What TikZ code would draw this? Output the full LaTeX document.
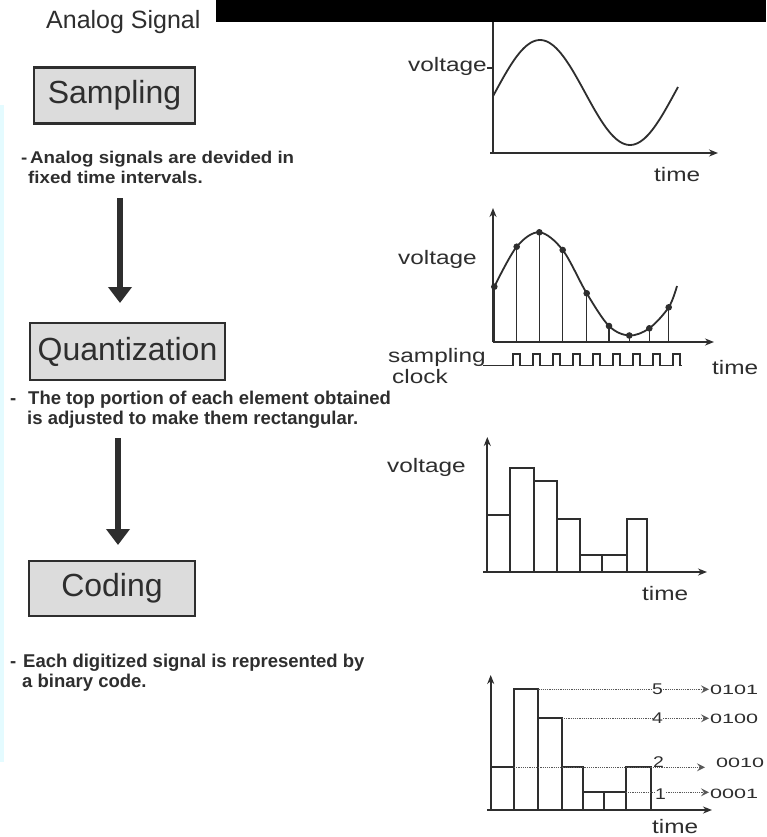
\documentclass[tikz,border=0pt]{standalone}
\usepackage{fontspec}
\setmainfont{Liberation Sans}
\newfontfamily\widefont[FakeStretch=1.25]{Liberation Sans}
\newfontfamily\descwide[FakeStretch=1.1]{Liberation Sans}
\newfontfamily\digfont[FakeStretch=1.6]{Liberation Sans}
\usetikzlibrary{arrows.meta}
\definecolor{ink}{HTML}{2E2E2E}
\definecolor{boxfill}{HTML}{DCDCDC}
\definecolor{strip}{HTML}{E4FBFF}
\begin{document}
\begin{tikzpicture}[x=1pt,y=-1pt,
  stepbox/.style={draw=ink, line width=2.5pt, fill=boxfill, inner sep=0pt, font=\fontsize{32}{36}\selectfont, text=ink},
  desc/.style={anchor=base west, font=\bfseries\fontsize{18.5}{20}\selectfont, text=ink, inner sep=0pt},
  descw/.style={anchor=base west, font=\descwide\bfseries\fontsize{17}{18}\selectfont, text=ink, inner sep=0pt},
  lab/.style={anchor=base west, font=\widefont\fontsize{19.5}{20}\selectfont, text=ink, inner sep=0pt},
  axis/.style={draw=ink, line width=1.8pt, -{Stealth[length=9pt,width=7pt]}},
  sig/.style={draw=ink, line width=1.8pt},
  thinsig/.style={draw=ink, line width=1.3pt},
  bigarrow/.style={draw=ink, line width=6pt, -{Triangle[length=16pt,width=23pt]}},
  code/.style={anchor=base west, font=\digfont\fontsize{13.5}{14}\selectfont, text=ink, inner sep=0pt},
  lvl/.style={anchor=base west, font=\widefont\fontsize{15.5}{15}\selectfont, text=ink, inner sep=0pt},
  dots/.style={draw=ink!80, line width=1.2pt, densely dotted},
  dotarrow/.style={dots, -{Stealth[length=8pt,width=8pt,inset=3pt]}},
]
\useasboundingbox (0,0) rectangle (766,837);
\fill[white] (0,0) rectangle (766,837);
\fill[strip] (0,105) rectangle (4,762);

% ---------- left column ----------
\node[anchor=base west, font=\fontsize{25}{25}\selectfont, text=ink, inner sep=0pt] (title) at (46,29) {Analog Signal};

\node[stepbox, minimum width=161pt, minimum height=56pt] (samp) at (114.5,95.5) {Sampling};
\node[descw] (d1dash) at (21,164) {-};
\node[descw] (d1a) at (30,164) {Analog signals are devided in};
\node[descw] (d1b) at (28,183) {fixed time intervals.};

\coordinate (a1s) at (120,198);
\coordinate (a1e) at (120,303);
\draw[bigarrow] (a1s) -- (a1e);

\node[stepbox, minimum width=195pt, minimum height=57pt] (quant) at (127.5,351.5) {Quantization};
\node[desc] (d2dash) at (10,404) {-};
\node[desc] (d2a) at (28,404) {The top portion of each element obtained};
\node[desc] (d2b) at (27,424) {is adjusted to make them rectangular.};

\coordinate (a2s) at (118,438);
\coordinate (a2e) at (118,545);
\draw[bigarrow] (a2s) -- (a2e);

\node[stepbox, minimum width=166pt, minimum height=55pt] (cod) at (112,588.5) {Coding};
\node[desc] (d3dash) at (10,667) {-};
\node[desc] (d3a) at (23,667) {Each digitized signal is represented by};
\node[desc] (d3b) at (22,687) {a binary code.};

% ---------- graph 1: analog ----------
\coordinate (o1) at (493,153);
\coordinate (y1) at (493,20);
\coordinate (x1) at (718,153);
\draw[sig] (o1) -- (y1);
\draw[axis] (490,153) -- (x1);
\draw[sig] plot[domain=493:678, samples=80, smooth] (\x, {92.5-52.5*cos(2*(\x-540))});
\node[lab, anchor=base east] (v1) at (487,72) {voltage};
\draw[thinsig] (v1.east |- 0,68) -- (493,68);
\node[lab] (t1) at (654,182) {time};

% ---------- graph 2: sampling ----------
\coordinate (o2) at (493,342);
\draw[axis] (o2) -- (493,208);
\draw[axis] (o2) -- (714,342);
\draw[sig] plot[smooth, tension=0.55] coordinates {(494.3,286.7) (516.7,246.7) (539.3,232.3) (562.7,250) (586.7,293.3) (609,326) (629.3,335.5) (649.3,328.3) (668.7,307.3) (677,286)};
\foreach \px/\py in {494.3/286.7, 516.7/246.7, 539.3/232.3, 562.7/250, 586.7/293.3, 609/326, 629.3/335.5, 649.3/328.3, 668.7/307.3}{
  \draw[thinsig] (\px,342) -- (\px,\py);
  \fill[ink] (\px,\py) circle[radius=3.3pt];
}
\draw[thinsig] (483,365.7) \foreach \k in {0,...,8}{ -- ({513+20*\k},365.7) -- ++(0,-11.7) -- ++(7,0) -- ++(0,11.7)} -- (682,365.7);
\node[lab] (v2) at (398,264) {voltage};
\node[lab] (s2) at (388,362) {sampling};
\node[lab] (c2) at (392,383) {clock};
\node[lab] (t2) at (712,374) {time};

% ---------- graph 3: quantization ----------
\coordinate (o3) at (487.3,572);
\draw[axis] (o3) -- (487.3,437);
\draw[axis] (483,572) -- (707,572);
\foreach \xa/\xb/\ty in {487.3/510/515, 510/534/468.3, 534/556.7/480.7, 556.7/580/519, 580/601.7/555, 601.7/627.3/555, 627.3/646.7/519}{
  \draw[sig] (\xa,572) rectangle (\xb,\ty);
}
\node[lab] (v3) at (387,472) {voltage};
\node[lab] (t3) at (642,600) {time};

% ---------- graph 4: coding ----------
\coordinate (o4) at (490.7,810);
\draw[axis] (o4) -- (490.7,675);
\draw[axis] (487,810) -- (712,810);
\foreach \xa/\xb/\ty in {490.7/514/767.3, 514/538.3/689.3, 538.3/561.7/718.3, 561.7/583.3/767.3, 583.3/604/792.3, 604/625.7/792.3, 625.7/650.7/767.3}{
  \draw[sig] (\xa,810) rectangle (\xb,\ty);
}
\node[lvl] (l5) at (652,694) {5};
\node[lvl] (l4) at (652,723) {4};
\node[lvl] (l2) at (653,767) {2};
\node[lvl] (l1) at (655,799) {1};
\node[code] (c5) at (710,694) {0101};
\node[code] (c4) at (710,723) {0100};
\node[code] (c2) at (716,767) {0010};
\node[code] (c1) at (710,798) {0001};

\coordinate (b5) at (538.3,689.3);
\coordinate (b4) at (561.7,718.3);
\coordinate (b2) at (514,767.3);
\coordinate (b1) at (625.7,792.3);
\draw[dots] (b5) -- (b5 -| l5.west);
\draw[dotarrow] (l5.east |- b5) -- ([xshift=-1pt]c5.west |- b5);
\draw[dots] (b4) -- (b4 -| l4.west);
\draw[dotarrow] (l4.east |- b4) -- ([xshift=-1pt]c4.west |- b4);
\draw[dots] (b2) -- (l2.east |- b2);
\draw[dotarrow] (l2.east |- b2) -- ([xshift=-11pt]c2.west |- b2);
\draw[dots] (b1) -- (b1 -| l1.west);
\draw[dotarrow] (l1.east |- b1) -- ([xshift=-1pt]c1.west |- b1);
\node[lab] (t4) at (652,833) {time};

% top black bar
\fill[black] (216,0) rectangle (766,22);
\end{tikzpicture}
\end{document}
